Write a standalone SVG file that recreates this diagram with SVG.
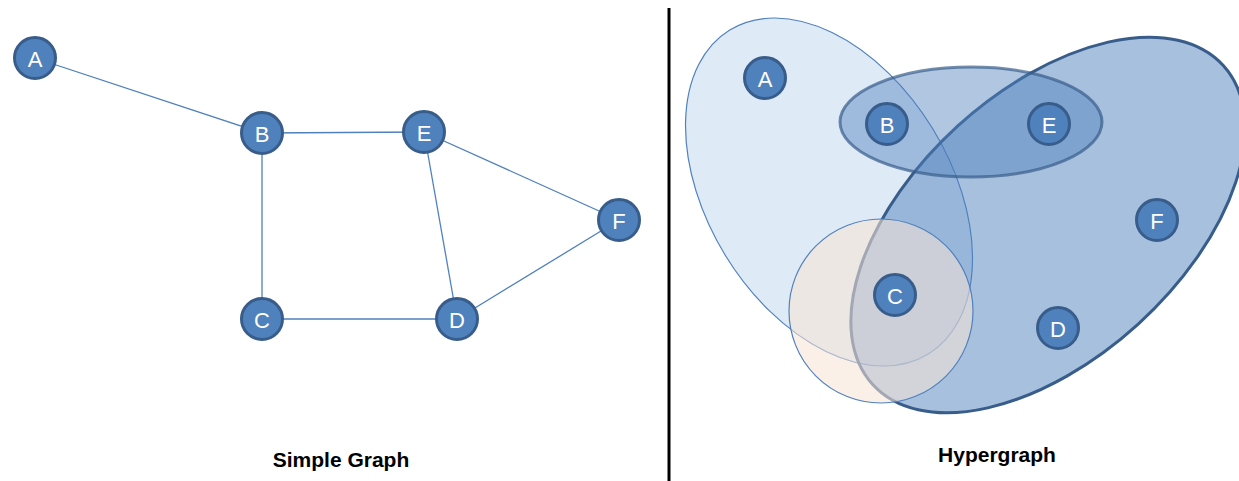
<svg xmlns="http://www.w3.org/2000/svg" width="1239" height="481" viewBox="0 0 1239 481">
  <style>
    .edge { stroke: #4F81BD; stroke-width: 1.3; fill: none; }
    .node circle { fill: #4F81BD; stroke: #385D8A; stroke-width: 3; }
    .node text { fill: #FFFFFF; font-family: "Liberation Sans", Arial, sans-serif; font-size: 22px; text-anchor: middle; dominant-baseline: central; }
    .caption { fill: #000000; font-family: "Liberation Sans", Arial, sans-serif; font-weight: bold; font-size: 21px; text-anchor: middle; }
  </style>
  <rect width="1239" height="481" fill="#FFFFFF"/>

  <!-- Simple graph: edges -->
  <g id="edges">
    <line class="edge" x1="35" y1="58" x2="262" y2="133"/>
    <line class="edge" x1="262" y1="133" x2="424" y2="132"/>
    <line class="edge" x1="262" y1="133" x2="262" y2="319"/>
    <line class="edge" x1="262" y1="319" x2="457" y2="319"/>
    <line class="edge" x1="424" y1="132" x2="457" y2="319"/>
    <line class="edge" x1="424" y1="132" x2="619" y2="220"/>
    <line class="edge" x1="619" y1="220" x2="457" y2="319"/>
  </g>

  <!-- Simple graph: nodes -->
  <g id="sg-A" class="node"><circle cx="35" cy="58" r="20.5"/><text x="35" y="59">A</text></g>
  <g id="sg-B" class="node"><circle cx="262" cy="133" r="20.5"/><text x="262" y="134">B</text></g>
  <g id="sg-E" class="node"><circle cx="424" cy="132" r="20.5"/><text x="424" y="133">E</text></g>
  <g id="sg-F" class="node"><circle cx="619" cy="220" r="20.5"/><text x="619" y="221">F</text></g>
  <g id="sg-C" class="node"><circle cx="262" cy="319" r="20.5"/><text x="262" y="320">C</text></g>
  <g id="sg-D" class="node"><circle cx="457" cy="319" r="20.5"/><text x="457" y="320">D</text></g>

  <text class="caption" x="341" y="467">Simple Graph</text>

  <!-- divider -->
  <line x1="669" y1="8" x2="669" y2="481" stroke="#000000" stroke-width="3"/>

  <!-- Hypergraph: hyperedges -->
  <g id="hyperedges">
    <ellipse id="he-ABC" cx="829" cy="192" rx="190" ry="121.5" transform="rotate(58.5 829 192)"
             fill="#8DB3E2" fill-opacity="0.28" stroke="#4F81BD" stroke-width="1.2"/>
    <ellipse id="he-CDEF" cx="1048" cy="225" rx="237" ry="134" transform="rotate(-42.3 1048 225)"
             fill="#4F81BD" fill-opacity="0.5" stroke="#385D8A" stroke-width="3"/>
    <ellipse id="he-BE" cx="971" cy="122" rx="131" ry="55"
             fill="#4F81BD" fill-opacity="0.45" stroke="#385D8A" stroke-opacity="0.7" stroke-width="3"/>
    <circle id="he-C" cx="881" cy="311" r="92"
            fill="#F8E4D6" fill-opacity="0.55" stroke="#4F81BD" stroke-width="1.2"/>
  </g>

  <!-- Hypergraph: nodes -->
  <g id="hg-A" class="node"><circle cx="765" cy="78" r="20.5"/><text x="765" y="79">A</text></g>
  <g id="hg-B" class="node"><circle cx="887" cy="124" r="20.5"/><text x="887" y="125">B</text></g>
  <g id="hg-E" class="node"><circle cx="1049" cy="124" r="20.5"/><text x="1049" y="125">E</text></g>
  <g id="hg-F" class="node"><circle cx="1157" cy="220" r="20.5"/><text x="1157" y="221">F</text></g>
  <g id="hg-C" class="node"><circle cx="895" cy="295" r="20.5"/><text x="895" y="296">C</text></g>
  <g id="hg-D" class="node"><circle cx="1058" cy="328" r="20.5"/><text x="1058" y="329">D</text></g>

  <text class="caption" x="997" y="462">Hypergraph</text>
</svg>
